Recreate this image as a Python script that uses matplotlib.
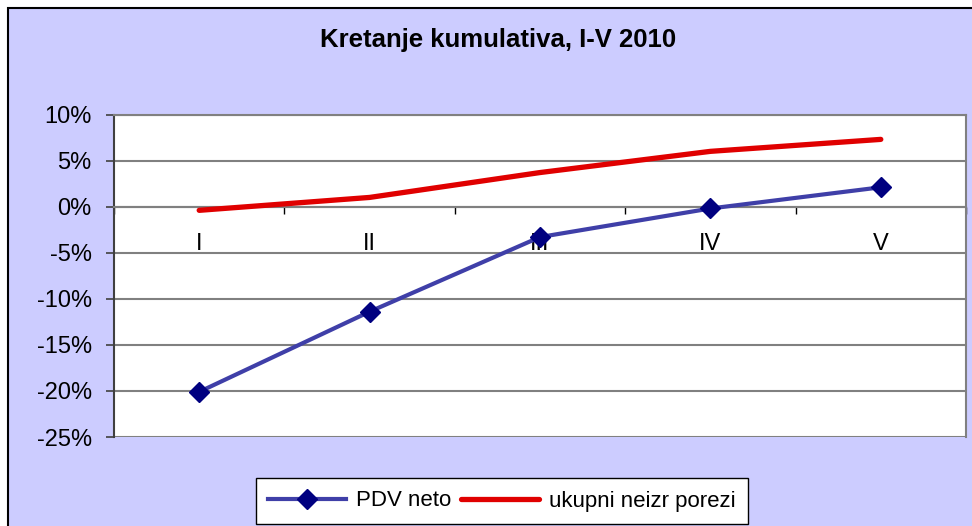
import matplotlib
matplotlib.use("Agg")
import matplotlib.pyplot as plt
from matplotlib.patches import Rectangle
from matplotlib.ticker import FuncFormatter

plt.rcParams['font.family'] = ['Liberation Sans', 'DejaVu Sans']

months = ['I', 'II', 'III', 'IV', 'V']
pdv_neto = [-20.1, -11.4, -3.3, -0.2, 2.1]
ukupni = [-0.4, 1.0, 3.7, 6.0, 7.3]
yticks = [-25, -20, -15, -10, -5, 0, 5, 10]

fig = plt.figure(figsize=(9.72, 5.26), dpi=100)
fig.patch.set_facecolor('white')

# lavender chart area with black border (runs off right/bottom edge)
fig.patches.append(Rectangle((8 / 972, -0.05), 1.1, 1.05 - 8 / 526,
                             transform=fig.transFigure, facecolor='#CCCCFF',
                             edgecolor='black', linewidth=1.5, zorder=-5))

ax = fig.add_axes([114 / 972, 1 - 437 / 526, (966 - 114) / 972, (437 - 114.5) / 526])
ax.set_zorder(2)
ax.set_facecolor('white')

x = list(range(1, len(months) + 1))
ax.plot(x, pdv_neto, color='#3F3FA8', lw=3, marker='D', markersize=10,
        markerfacecolor='#000080', markeredgecolor='#000080', label='PDV neto',
        zorder=4)
ax.plot(x, ukupni, color='#E00000', lw=3.8, solid_capstyle='round',
        label='ukupni neizr porezi', zorder=4)

ax.set_xlim(0.5, len(months) + 0.5)
ax.set_ylim(-25, 10)
ax.set_yticks(yticks)
ax.yaxis.set_major_formatter(FuncFormatter(lambda v, p: f'{v:.0f}%'))
ax.yaxis.grid(True, color='#808080', lw=1.5)
ax.set_axisbelow(True)
ax.tick_params(axis='y', labelsize=17, length=6, width=1.2, color='#404040', pad=10)

# category axis at zero
ax.spines['bottom'].set_position(('data', 0))
ax.spines['bottom'].set_color('#808080')
ax.spines['bottom'].set_linewidth(1.5)
ax.set_xticks([i + 0.5 for i in range(len(months) + 1)])
ax.set_xticklabels([])
ax.tick_params(axis='x', which='major', length=5, width=1, color='black', direction='out')
ax.set_xticks(x, minor=True)
ax.set_xticklabels(months, minor=True)
ax.tick_params(axis='x', which='minor', length=0, labelsize=17, pad=19)

ax.spines['left'].set_color('#404040')
ax.spines['left'].set_linewidth(1.5)
for s in ['top', 'right']:
    ax.spines[s].set_color('#808080')
    ax.spines[s].set_linewidth(1.5)

fig.text(498 / 972, 1 - 40 / 526, 'Kretanje kumulativa, I-V 2010', ha='center',
         va='center', fontsize=18.5, fontweight='bold')

leg = fig.legend(loc='center', bbox_to_anchor=(502 / 972, 1 - 501 / 526), ncol=2,
                 fontsize=16, frameon=True, fancybox=False, edgecolor='black',
                 framealpha=1, handlelength=3.5, columnspacing=0.45,
                 handletextpad=0.45, borderpad=0.55)
leg.get_frame().set_linewidth(1)

fig.savefig('out.png', dpi=100, facecolor=fig.get_facecolor())
